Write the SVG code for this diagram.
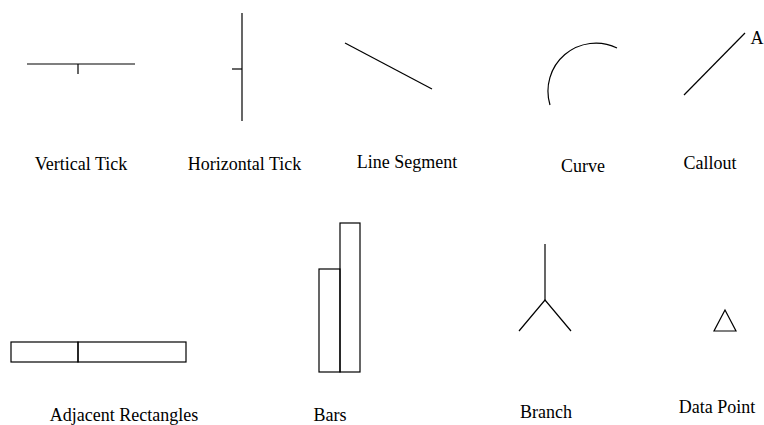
<svg xmlns="http://www.w3.org/2000/svg" width="764" height="425" viewBox="0 0 764 425">
<style>
.s{fill:none;stroke:#000;stroke-width:1.2}
.t{font-family:"Liberation Serif","Times New Roman",serif;font-size:18px;fill:#000}
</style>
<rect width="764" height="425" fill="#fff"/>
<g id="vertical-tick">
<line class="s" x1="27" y1="64" x2="135" y2="64"/>
<line class="s" x1="78" y1="64" x2="78" y2="74"/>
<text class="t" x="81" y="170" text-anchor="middle">Vertical Tick</text>
</g>
<g id="horizontal-tick">
<line class="s" x1="242" y1="13" x2="242" y2="121"/>
<line class="s" x1="232" y1="69" x2="242" y2="69"/>
<text class="t" x="244.5" y="170" text-anchor="middle">Horizontal Tick</text>
</g>
<g id="line-segment">
<line class="s" x1="345" y1="43" x2="432" y2="89"/>
<text class="t" x="407" y="168" text-anchor="middle">Line Segment</text>
</g>
<g id="curve">
<path class="s" d="M550,105 A48,48 0 0 1 617,48"/>
<text class="t" x="583" y="172" text-anchor="middle">Curve</text>
</g>
<g id="callout">
<line class="s" x1="684" y1="95" x2="745" y2="33"/>
<text class="t" x="757" y="44" text-anchor="middle" font-size="16">A</text>
<text class="t" x="710" y="169" text-anchor="middle">Callout</text>
</g>
<g id="adjacent-rectangles">
<rect class="s" x="11" y="342" width="67" height="20"/>
<rect class="s" x="78" y="342" width="108" height="20"/>
<text class="t" x="124" y="421" text-anchor="middle">Adjacent Rectangles</text>
</g>
<g id="bars">
<rect class="s" x="319" y="269" width="21" height="103"/>
<rect class="s" x="340" y="223" width="20" height="149"/>
<text class="t" x="330" y="421" text-anchor="middle">Bars</text>
</g>
<g id="branch">
<polyline class="s" points="545,244 545,300"/>
<polyline class="s" points="519,331 545,300 571,331"/>
<text class="t" x="546" y="418" text-anchor="middle">Branch</text>
</g>
<g id="data-point">
<polygon class="s" points="725,310 714,331 736,331"/>
<text class="t" x="717" y="413" text-anchor="middle">Data Point</text>
</g>
</svg>
